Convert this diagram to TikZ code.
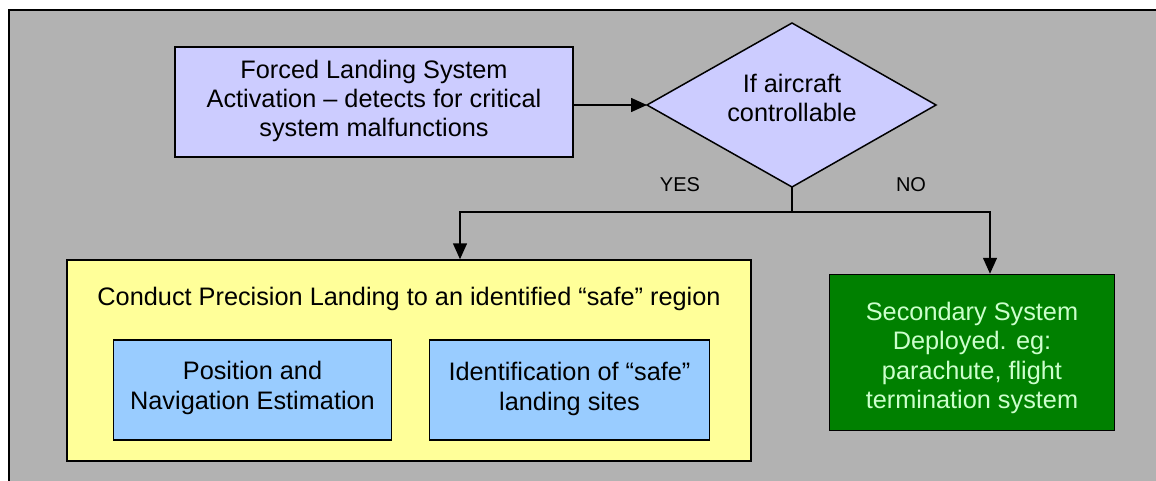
\documentclass[tikz,border=0pt]{standalone}
\usepackage{fontspec}
\setmainfont{Liberation Sans}
\usetikzlibrary{shapes.geometric,arrows.meta}
\definecolor{bggray}{HTML}{B2B2B2}
\definecolor{lav}{HTML}{CCCCFF}
\definecolor{lyellow}{HTML}{FFFF99}
\definecolor{lblue}{HTML}{99CCFF}
\definecolor{dgreen}{HTML}{008000}
\definecolor{lgreen}{HTML}{CCFFCC}
\begin{document}
\begin{tikzpicture}[x=1pt,y=-1pt,
  every node/.style={font=\fontsize{25.3}{29.3}\selectfont},
  boxstyle/.style={draw=black,line width=1.5pt,inner sep=0pt,align=center},
  conn/.style={line width=1.5pt,-{Triangle[length=16pt,width=14pt]}},
  plain/.style={line width=1.5pt}]
\useasboundingbox (0,0) rectangle (1156,481);
\fill[bggray] (9,10) rectangle (1160,485);
\draw[line width=2pt] (9,485) -- (9,10) -- (1160,10);
% top box
\node[boxstyle,fill=lav,minimum width=398pt,minimum height=110pt] (act) at (374,102) {};
\node[align=center] (acttext) at (374,101)
  {Forced Landing System\\Activation -- detects for critical\\system malfunctions};
% diamond
\coordinate (dl) at (647,105);
\coordinate (dr) at (936,105);
\coordinate (dt) at (792,23);
\coordinate (db) at (792,187);
\filldraw[fill=lav,draw=black,line width=1.5pt] (dl) -- (dt) -- (dr) -- (db) -- cycle;
\node[align=center] (dec) at (792,98) {If aircraft\\controllable};
% yellow box
\node[boxstyle,fill=lyellow,minimum width=684pt,minimum height=201pt] (prec) at (409,360.5) {};
\node (prect) at (409,299) {Conduct Precision Landing to an identified “safe” region};
\node[boxstyle,fill=lblue,minimum width=278pt,minimum height=100pt] (pos) at (252.5,390) {};
\node[align=center] (postext) at (252.5,388) {Position and\\Navigation Estimation};
\node[boxstyle,fill=lblue,minimum width=280pt,minimum height=100pt] (ident) at (569.5,390) {};
\node[align=center] (identtext) at (569.5,389) {Identification of “safe”\\landing sites};
% green box
\node[boxstyle,fill=dgreen,minimum width=285pt,minimum height=156pt] (sec) at (972,352.5) {};
\node[align=center,text=lgreen] (sectext) at (972,358)
  {Secondary System\\Deployed. eg:\\parachute, flight\\termination system};
% connectors
\draw[conn] (act.east |- dl) -- (dl);
\coordinate (split) at (792,212);
\coordinate (yl) at (460,212);
\coordinate (nr) at (990,212);
\draw[plain] (db) -- (split);
\draw[conn] (split) -- (yl) -- (yl |- prec.north);
\draw[conn] (split) -- (nr) -- (nr |- sec.north);
\node (yes) at (680,185) {\fontsize{20}{24}\selectfont YES};
\node (no) at (911,185) {\fontsize{20}{24}\selectfont NO};
\end{tikzpicture}
\end{document}
